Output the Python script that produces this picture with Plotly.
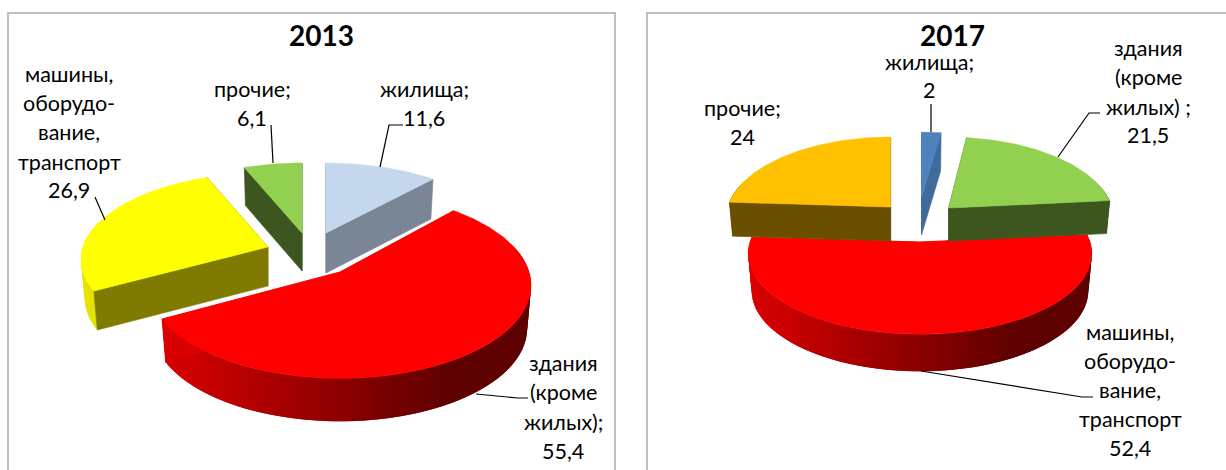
import math
import plotly.graph_objects as go

# ---------- data ----------
YEAR_A = "2013"
YEAR_B = "2017"
CATS_A = [["жилища;"], ["здания", "(кроме", "жилых);"], ["машины,", "оборудо-", "вание,", "транспорт"], ["прочие;"]]
VALS_A = [11.6, 55.4, 26.9, 6.1]
CATS_B = [["жилища;"], ["здания", "(кроме", "жилых) ;"], ["машины,", "оборудо-", "вание,", "транспорт"], ["прочие;"]]
VALS_B = [2, 21.5, 52.4, 24]

# ---------- styles and layout ----------
FONT = "Lato, 'Open Sans', sans-serif"
K = 0.144
BOTTOM_SCALE = 0.98
STYLE_A = [
    dict(apex=(326, 233), f=178, g=80, d=40, top="#C5D7ED", cut="#7A8696", sl="#7A8696", sr="#7A8696", order=1),
    dict(apex=(340, 272), f=189, g=91, d=43, top="#FF0000", cut="#D80000", sl="#DC0000", sr="#5E0000", order=3),
    dict(apex=(268, 247), f=185, g=85, d=39, top="#FFFF00", cut="#7F7A00", sl="#E6E600", sr="#C8C800", order=2),
    dict(apex=(302, 233), f=175, g=80, d=38, top="#92D050", cut="#3D5620", sl="#3D5620", sr="#3D5620", order=0),
]
STYLE_B = [
    dict(apex=(921.5, 197), f=178, g=74, d=38, top="#4F81BD", cut="#3E6A9C", sl="#3E6A9C", sr="#3E6A9C", order=2),
    dict(apex=(948.6, 208), f=164, g=81, d=33, top="#92D050", cut="#3D5620", sl="#3D5620", sr="#3D5620", order=3),
    dict(apex=(920, 242), f=170, g=79, d=37, top="#FF0000", cut="#D80000", sl="#DC0000", sr="#5E0000", order=0),
    dict(apex=(890.6, 207), f=163, g=80, d=34, top="#FFC000", cut="#6A4F00", sl="#6A4F00", sr="#6A4F00", order=1),
]
LABEL_POS_A = [
    (424, [89, 118]),
    (563, [363, 392, 422, 451]),
    (69, [74, 103, 132, 162, 190]),
    (252, [89, 118]),
]
LABEL_POS_B = [
    (929, [62, 90]),
    (1148, [48, 77, 107, 135]),
    (1130, [332, 361, 390, 419, 448]),
    (742, [108, 137]),
]
LEADERS = [
    [(403, 125), (389, 125), (380, 167)],
    [(271, 125), (273, 163)],
    [(95, 197), (105, 220)],
    [(528, 398), (518, 398), (476, 394)],
    [(931, 104), (931, 132)],
    [(1100, 113), (1089, 113), (1058, 157)],
    [(1093, 397), (1082, 397), (921, 371)],
]
TITLE_POS = {YEAR_A: (321, 35), YEAR_B: (952, 35)}
PANELS = [(8, 13, 615, 480), (647, 13, 1240, 480)]


def hex_rgb(c):
    return tuple(int(c[i:i + 2], 16) for i in (1, 3, 5))


def mix(a, b, t):
    ra, rb = hex_rgb(a), hex_rgb(b)
    return "rgb(%d,%d,%d)" % tuple(round(x + (y - x) * t) for x, y in zip(ra, rb))


def top_pt(s, th):
    X, Y = math.sin(th), -math.cos(th)
    w = 1 - K * Y
    return s["apex"][0] + s["f"] * X / w, s["apex"][1] + s["g"] * Y / w


def bot_pt(s, th):
    x, y = top_pt(s, th)
    ax = s["apex"][0]
    return ax + (x - ax) * BOTTOM_SCALE, y + s["d"]


def poly(fig, pts, color, edge=0.6):
    fig.add_trace(go.Scatter(
        x=[p[0] for p in pts] + [pts[0][0]],
        y=[p[1] for p in pts] + [pts[0][1]],
        mode="lines", fill="toself", fillcolor=color,
        line=dict(color=color, width=edge),
        hoverinfo="skip", showlegend=False))


def draw_pie(fig, values, styles):
    total = sum(values)
    angles = []
    a = 0.0
    for v in values:
        b = a + v / total * 2 * math.pi
        angles.append((a, b))
        a = b
    for i in sorted(range(len(values)), key=lambda j: styles[j]["order"]):
        s = styles[i]
        a0, a1 = angles[i]
        n = max(2, int((a1 - a0) / math.radians(1)))
        ths = [a0 + (a1 - a0) * j / n for j in range(n + 1)]
        xs = [top_pt(s, t)[0] for t in ths]
        xl, xr = min(xs), max(xs)
        # outer wall: painted so that each step overlaps the next, hiding seams
        step = 2
        for j in range(n - step, -1, -step):
            t0 = ths[j]
            tm = ths[j + 1]
            if -math.cos(tm) < -0.3:
                continue
            xm = top_pt(s, tm)[0]
            u = min(1.0, (xm - xl) / max(1, (xr - xl) * 0.8))
            seg = ths[j:]
            seg = seg[:2 * step + 1]
            pts = [top_pt(s, t) for t in seg] + [bot_pt(s, t) for t in reversed(seg)]
            poly(fig, pts, mix(s["sl"], s["sr"], u), edge=0)
        # cut faces
        ap = s["apex"]
        ap_b = (ap[0], ap[1] + s["d"])
        for t in (a0, a1):
            poly(fig, [ap, top_pt(s, t), bot_pt(s, t), ap_b], s["cut"])
        # top
        poly(fig, [ap] + [top_pt(s, t) for t in ths], s["top"])


def fmt(v):
    return str(v).replace(".", ",")


def labels(cats, vals, positions):
    out = []
    for lines, v, (x, ys) in zip(cats, vals, positions):
        for txt, y in zip(lines + [fmt(v)], ys):
            out.append(dict(x=x, y=y, text=txt, showarrow=False, xref="x", yref="y",
                            xanchor="center", yanchor="middle",
                            font=dict(family=FONT, size=21.5, color="#000000")))
    return out


fig = go.Figure()
draw_pie(fig, VALS_A, STYLE_A)
draw_pie(fig, VALS_B, STYLE_B)
for ld in LEADERS:
    fig.add_trace(go.Scatter(x=[p[0] for p in ld], y=[p[1] for p in ld], mode="lines",
                             line=dict(color="#000000", width=1.2), hoverinfo="skip", showlegend=False))

ann = labels(CATS_A, VALS_A, LABEL_POS_A) + labels(CATS_B, VALS_B, LABEL_POS_B)
for yr, (x, y) in TITLE_POS.items():
    ann.append(dict(x=x, y=y, text="<b>%s</b>" % yr, showarrow=False, xref="x", yref="y",
                    xanchor="center", yanchor="middle",
                    font=dict(family=FONT, size=28, color="#000000")))

shapes = [dict(type="rect", xref="x", yref="y", x0=p[0], y0=p[1], x1=p[2], y1=p[3],
               line=dict(color="#BFBFBF", width=2), fillcolor="rgba(0,0,0,0)", layer="below")
          for p in PANELS]

fig.update_layout(
    width=1226, height=470, margin=dict(l=0, r=0, t=0, b=0),
    paper_bgcolor="#FFFFFF", plot_bgcolor="#FFFFFF", showlegend=False,
    xaxis=dict(range=[0, 1226], visible=False, fixedrange=True),
    yaxis=dict(range=[470, 0], visible=False, fixedrange=True),
    annotations=ann, shapes=shapes,
)
fig.write_html("out.html", config={"displayModeBar": False},
               post_script="document.body.style.margin='0';document.body.style.overflow='hidden';")
